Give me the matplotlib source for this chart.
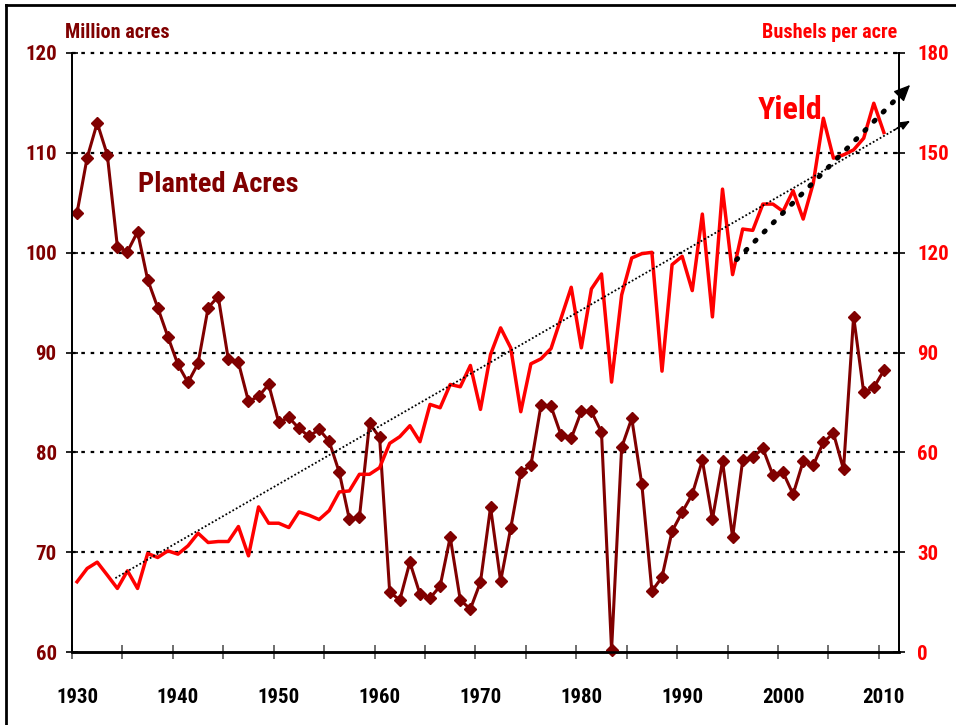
import matplotlib
matplotlib.use("Agg")
import matplotlib.pyplot as plt
from matplotlib import font_manager
import numpy as np

# ---------------- data ----------------
years = list(range(1930, 2011))
planted_acres = [
    104.0, 109.5, 113.0, 109.8, 100.6, 100.1, 102.1, 97.3, 94.5, 91.6,
    88.8, 87.0, 88.9, 94.5, 95.6, 89.3, 89.0, 85.1, 85.6, 86.8,
    83.0, 83.5, 82.4, 81.6, 82.3, 81.1, 78.0, 73.3, 73.5, 82.9,
    81.5, 66.0, 65.2, 69.0, 65.8, 65.4, 66.6, 71.5, 65.2, 64.3,
    67.0, 74.5, 67.1, 72.4, 78.0, 78.7, 84.7, 84.6, 81.7, 81.4,
    84.1, 84.1, 82.0, 60.2, 80.5, 83.4, 76.8, 66.1, 67.5, 72.1,
    74.0, 75.8, 79.2, 73.3, 79.1, 71.5, 79.2, 79.5, 80.4, 77.7,
    78.0, 75.8, 79.1, 78.7, 81.0, 81.9, 78.3, 93.6, 86.0, 86.5,
    88.2,
]
yield_bu = [
    21.1, 25.1, 27.0, 23.1, 19.1, 24.4, 19.1, 29.6, 28.4, 30.4,
    29.4, 31.9, 35.7, 32.9, 33.2, 33.2, 37.7, 28.9, 43.6, 38.7,
    38.7, 37.4, 42.1, 41.1, 39.8, 42.5, 48.1, 48.4, 53.4, 53.4,
    55.4, 62.7, 64.7, 68.0, 63.2, 74.4, 73.4, 80.4, 79.7, 86.1,
    72.9, 89.4, 97.4, 91.4, 72.2, 86.6, 88.1, 91.2, 100.4, 109.6,
    91.4, 109.1, 113.6, 81.1, 107.3, 118.4, 119.7, 120.1, 84.4, 116.4,
    118.9, 108.6, 131.6, 100.7, 139.1, 113.4, 127.1, 126.7, 134.6, 134.6,
    132.4, 138.6, 130.1, 140.9, 160.4, 148.4, 149.4, 150.9, 154.4, 164.9,
    156.1,
]
# long-run trend (thin dotted arrow) and recent trend (bold dotted arrow), in (year, bu/acre)
trend_years = [1933.8, 2012.6]
trend_values = [22.2, 159.6]
recent_years = [1995.4, 2012.6]
recent_values = [117.9, 170.4]

xtick_labels = [str(y) for y in range(1930, 2011, 10)]
left_ticks = [60, 70, 80, 90, 100, 110, 120]
right_ticks = [0, 30, 60, 90, 120, 150, 180]

# ---------------- style ----------------
avail = {f.name for f in font_manager.fontManager.ttflist}
narrow = [f for f in ["Liberation Sans Narrow", "Roboto Condensed", "Arial Narrow"] if f in avail]
fam = narrow + ["Liberation Sans", "DejaVu Sans"]
plt.rcParams["font.family"] = fam
plt.rcParams["font.weight"] = "bold"

DARK = "#800000"
RED = "#FF0000"

fig = plt.figure(figsize=(9.56, 7.25), dpi=100)
ax = fig.add_axes([72 / 956, 1 - 652 / 725, (899 - 72) / 956, (652 - 53) / 725])
ax2 = ax.twinx()

ax.set_xlim(1929.5, 2011.5)
ax.set_ylim(60, 120)
ax2.set_ylim(0, 180)

# gridlines
for v in left_ticks[1:]:
    ax.axhline(v, color="black", lw=1.6, ls=(0, (1.6, 2.6)), zorder=1, clip_on=False)

ax.plot(years, planted_acres, color=DARK, lw=2.2, marker="D", ms=6.5,
        markerfacecolor=DARK, markeredgecolor=DARK, zorder=3, clip_on=False)
ax2.plot(years, yield_bu, color=RED, lw=2.5, zorder=3)

# thin trend arrow
ax2.plot(trend_years, trend_values, color="black", lw=1.3, ls=(0, (1, 1.2)),
         zorder=4, clip_on=False)
dx = trend_years[1] - trend_years[0]
dy = trend_values[1] - trend_values[0]
ax2.annotate("", xy=(trend_years[1], trend_values[1]),
             xytext=(trend_years[1] - 0.02 * dx, trend_values[1] - 0.02 * dy),
             arrowprops=dict(arrowstyle="-|>,head_length=0.6,head_width=0.25",
                             color="black", lw=1, shrinkA=0, shrinkB=0),
             annotation_clip=False, zorder=5)
# bold recent-trend arrow
ax2.plot(recent_years, recent_values, color="black", lw=3.6, ls=(0, (0.3, 2.3)),
         dash_capstyle="round", zorder=4, clip_on=False)
dx = recent_years[1] - recent_years[0]
dy = recent_values[1] - recent_values[0]
ax2.annotate("", xy=(recent_years[1], recent_values[1]),
             xytext=(recent_years[1] - 0.06 * dx, recent_values[1] - 0.06 * dy),
             arrowprops=dict(arrowstyle="-|>,head_length=1.0,head_width=0.45",
                             color="black", lw=1, shrinkA=0, shrinkB=0),
             annotation_clip=False, zorder=5)

# spines
for a in (ax, ax2):
    a.spines["top"].set_visible(False)
    a.spines["left"].set_linewidth(1.3)
    a.spines["right"].set_linewidth(1.3)
    a.spines["bottom"].set_linewidth(1.8)

# x ticks: labels at decades, tick marks at every 5 categories boundaries
ax.set_xticks(range(1930, 2011, 10))
ax.set_xticklabels(xtick_labels, fontsize=15, fontweight="bold", color="black")
ax.tick_params(axis="x", which="major", length=0, pad=26)
ax.set_xticks(np.arange(1929.5, 2010, 5), minor=True)
ax.tick_params(axis="x", which="minor", length=10, direction="inout", color="#555555", width=1.2)

ax.set_yticks(left_ticks)
ax.set_yticklabels([str(v) for v in left_ticks], fontsize=15, fontweight="bold", color=DARK)
ax.tick_params(axis="y", length=8, direction="inout", width=1.2, pad=7)
ax2.set_yticks(right_ticks)
ax2.set_yticklabels([str(v) for v in right_ticks], fontsize=15, fontweight="bold", color=RED)
ax2.tick_params(axis="y", length=8, direction="inout", width=1.2, pad=9)
ax2.tick_params(axis="x", length=0)

# texts
fig.text(65 / 956, 1 - 33 / 725, "Million acres", color=DARK, fontsize=14.5,
         fontweight="bold", ha="left", va="center")
fig.text(897 / 956, 1 - 33 / 725, "Bushels per acre", color=RED, fontsize=14.5,
         fontweight="bold", ha="right", va="center")
ax.text(1936, 106.8, "Planted Acres", color=DARK, fontsize=20.5, fontweight="bold",
        ha="left", va="center")
ax.text(1997.5, 114.3, "Yield", color=RED, fontsize=23, fontweight="bold",
        ha="left", va="center")

# frame lines (top and left)
fig.add_artist(plt.Line2D([6 / 956, 1], [1 - 5 / 725, 1 - 5 / 725], color="black", lw=2,
                          transform=fig.transFigure))
fig.add_artist(plt.Line2D([6 / 956, 6 / 956], [0, 1 - 5 / 725], color="black", lw=2,
                          transform=fig.transFigure))

fig.savefig("out.png", dpi=100)
